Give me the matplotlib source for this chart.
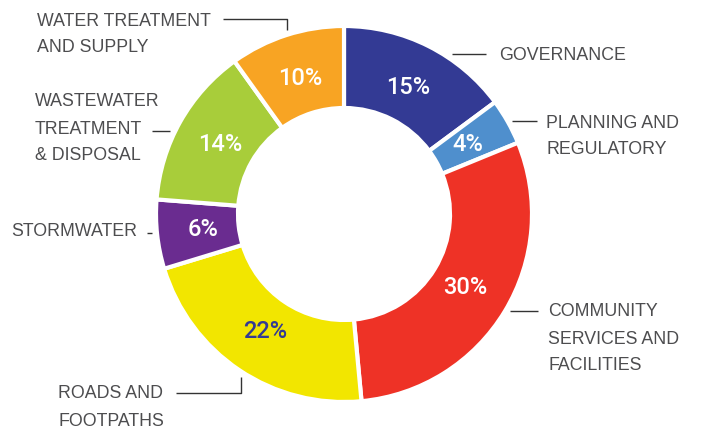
"""Donut chart: share of spend by service area."""
import matplotlib
matplotlib.use("Agg")
import matplotlib.pyplot as plt

categories = [
    "GOVERNANCE",
    "PLANNING AND\nREGULATORY",
    "COMMUNITY\nSERVICES AND\nFACILITIES",
    "ROADS AND\nFOOTPATHS",
    "STORMWATER",
    "WASTEWATER\nTREATMENT\n& DISPOSAL",
    "WATER TREATMENT\nAND SUPPLY",
]
shares = [15, 4, 30, 22, 6, 14, 10]
colors = ["#333A94", "#4F8FCD", "#EE3226", "#F2E600", "#6A2C90", "#A8CD3A", "#F8A423"]
pct_colors = ["white", "white", "white", "#333A94", "white", "white", "white"]

W, H = 704, 430
CX, CY = 344, 214          # centre, in pixels from the top-left
R_OUT, R_IN = 188, 106
LINE_STEP = 27
TEXT_COLOR = "#4D4D4F"
LABEL_FONT = ["Liberation Sans", "DejaVu Sans"]

# label layout: text anchor (x, y of first line) and leader polyline, all in px
layout = [
    (499, 55, [(452, 54), (486, 54)]),
    (546, 123, [(512, 121), (537, 121)]),
    (548, 312, [(510, 311), (538, 311)]),
    (58, 394, [(241, 377), (241, 393), (176, 393)]),
    (11, 231, [(147, 233), (152, 233)]),
    (35, 102, [(152, 131), (170, 131)]),
    (37, 21, [(223, 19), (287, 19), (287, 30)]),
]


def fy(y):
    """top-based pixel y -> data y"""
    return H - y


fig = plt.figure(figsize=(W / 100, H / 100), dpi=100)
ax = fig.add_axes([0, 0, 1, 1])

wedges, _, autotexts = ax.pie(
    shares,
    colors=colors,
    startangle=90,
    counterclock=False,
    center=(CX, fy(CY)),
    radius=R_OUT,
    autopct="%.0f%%",
    pctdistance=0.755,
    wedgeprops=dict(width=R_OUT - R_IN, edgecolor="white", linewidth=3),
    frame=True,
)
ax.set_xlim(0, W)
ax.set_ylim(0, H)
ax.set_aspect("equal")
ax.axis("off")

for t, v, c in zip(autotexts, shares, pct_colors):
    t.set_text(f"{v}%")
    t.set_color(c)
    t.set_fontsize(17)
    t.set_family(["Roboto", "Liberation Sans", "DejaVu Sans"])
    t.set_fontweight("medium")

for label, (x, y0, leader) in zip(categories, layout):
    for i, line in enumerate(label.split("\n")):
        ax.text(x, fy(y0 + i * LINE_STEP), line, ha="left", va="center",
                fontsize=12.8, color=TEXT_COLOR, family=LABEL_FONT)
    xs = [p[0] for p in leader]
    ys = [fy(p[1]) for p in leader]
    ax.plot(xs, ys, color="#333333", lw=1.0, solid_capstyle="butt")

fig.savefig("out.png", dpi=100)
